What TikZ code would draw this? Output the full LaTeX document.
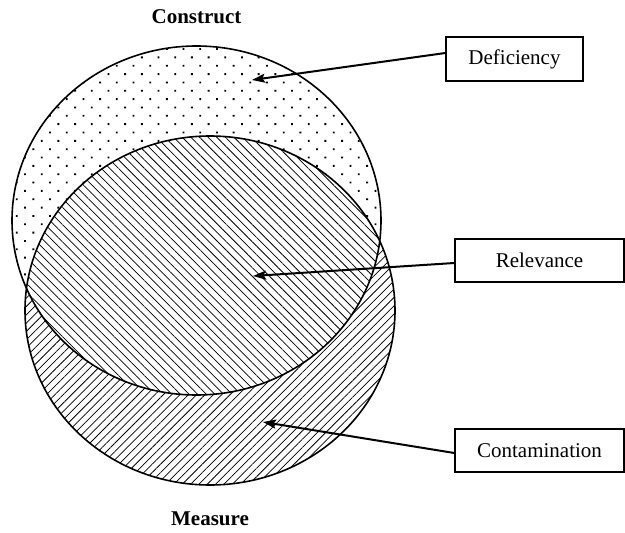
\documentclass[tikz,border=0pt]{standalone}
\usepackage{fontspec}
\setmainfont{Liberation Serif}
\usetikzlibrary{patterns.meta,arrows.meta}
\begin{document}
\begin{tikzpicture}[x=1pt,y=1pt,
  box/.style={draw,line width=1.4pt,inner sep=0pt,font=\fontsize{21}{25}\selectfont},
  lbl/.style={font=\fontsize{21}{25}\selectfont\bfseries,anchor=base,inner sep=0pt},
  outline/.style={line width=1.6pt},
  pointer/.style={line width=2pt,-{Stealth[length=13pt,width=9pt,inset=2.5pt]}},
  dotfill/.style={pattern={Dots[angle=45,distance=11.8pt,radius=1.3pt]}},
  backfill/.style={pattern={Lines[angle=-45,distance=6.1pt,line width=0.75pt]}},
  fwdfill/.style={pattern={Lines[angle=45,distance=5.9pt,line width=0.75pt]}}]
\useasboundingbox (0,0) rectangle (625,-533);
\coordinate (cC) at (196.5,-220.5);
\coordinate (cM) at (210,-310.5);
% construct: dots
\fill[dotfill] (cC) ellipse [x radius=184.5, y radius=174.5];
% measure: forward hatch
\fill[white] (cM) ellipse [x radius=185, y radius=174.5];
\fill[fwdfill] (cM) ellipse [x radius=185, y radius=174.5];
% intersection: back hatch
\begin{scope}
  \clip (cC) ellipse [x radius=184.5, y radius=174.5];
  \fill[white] (cM) ellipse [x radius=185, y radius=174.5];
  \fill[backfill] (cM) ellipse [x radius=185, y radius=174.5];
\end{scope}
\draw[outline] (cC) ellipse [x radius=184.5, y radius=174.5];
\draw[outline] (cM) ellipse [x radius=185, y radius=174.5];
% labels
\node[lbl] (construct) at (196.5,-23) {Construct};
\node[lbl] (measure) at (210,-525) {Measure};
% boxes
\node[box,minimum width=137pt,minimum height=44pt] (def) at (514.5,-59) {Deficiency};
\node[box,minimum width=169pt,minimum height=43pt] (rel) at (539.5,-260.5) {Relevance};
\node[box,minimum width=169pt,minimum height=43pt] (con) at (539.5,-450.5) {Contamination};
% arrow tips
\coordinate (tD) at (252,-80);
\coordinate (tR) at (253,-276);
\coordinate (tC) at (263,-422);
\draw[pointer] ([yshift=6pt]def.west) -- (tD);
\draw[pointer] ([yshift=-2.5pt]rel.west) -- (tR);
\draw[pointer] ([yshift=-2.5pt]con.west) -- (tC);
\end{tikzpicture}
\end{document}
